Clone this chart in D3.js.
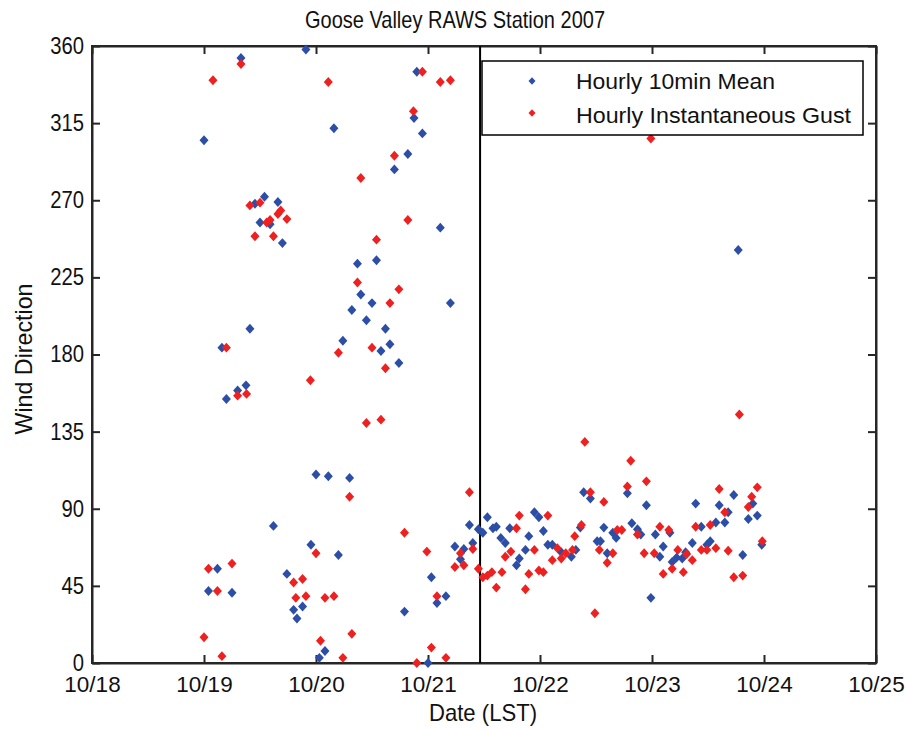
<!DOCTYPE html>
<html><head><meta charset="utf-8">
<script src="https://cdn.jsdelivr.net/npm/d3@7"></script>
<style>body{margin:0;background:#fff}svg{display:block}text{font-family:"Liberation Sans",Arial,sans-serif;fill:#111}</style>
</head><body><svg id="c" width="905" height="730"></svg>
<script>
const title = "Goose Valley RAWS Station 2007";
const xLabel = "Date (LST)";
const yLabel = "Wind Direction";
const seriesNames = ["Hourly 10min Mean", "Hourly Instantaneous Gust"];
const seriesColors = ["#2c4ea6", "#ee2020"];
const xTickDays = [18, 19, 20, 21, 22, 23, 24, 25];
const xTickLabels = ["10/18", "10/19", "10/20", "10/21", "10/22", "10/23", "10/24", "10/25"];
const yTicks = [0, 45, 90, 135, 180, 225, 270, 315, 360];
const markerDay = 21.465;
// [day of October (fractional), wind direction in degrees]
const meanPoints = [
[19.00,305],[19.16,184],[19.33,353],[19.375,162],[19.30,159],[19.20,154],[19.41,195],[19.455,268],
[19.54,272],[19.66,269],[19.50,257],[19.59,256],[19.70,245],[19.04,42],[19.12,55],[19.25,41],
[19.62,80],[19.74,52],[19.80,31],[19.88,33],[19.83,26],[19.91,358],[19.955,69],[20.00,110],
[20.11,109],[20.08,7],[20.03,3],[20.16,312],[20.20,63],[20.30,108],[20.24,188],[20.32,206],
[20.37,233],[20.40,215],[20.45,200],[20.50,210],[20.54,235],[20.58,182],[20.62,195],[20.66,186],
[20.74,175],[20.70,288],[20.82,297],[20.875,318],[20.90,345],[20.95,309],[20.79,30],[21.00,0],
[21.03,50],[21.08,35],[21.16,39],[21.11,254],[21.20,210],[21.24,68],[21.32,66.5],[21.40,70],
[21.29,60.5],[21.37,80.5],[21.45,78],[21.49,76],[21.53,85],[21.58,78.6],[21.61,79.5],[21.65,73],
[21.69,70],[21.73,78.6],[21.815,61],[21.79,57],[21.87,66],[21.90,74],[21.95,88],[21.99,85],
[22.03,77],[22.07,69],[22.11,69],[22.19,64.6],[22.28,62],[22.32,66],[22.36,79],[22.39,99.6],
[22.45,96],[22.51,71],[22.54,71],[22.57,79],[22.60,64],[22.78,99],[22.95,92],[22.82,81.5],
[22.87,78],[22.90,75],[22.65,76],[22.68,73],[23.03,75],[23.16,76],[23.10,68],[23.07,62],
[22.99,38],[23.30,64.6],[23.36,70],[23.52,71],[23.49,69],[23.81,63],[23.22,61.5],[23.27,61],
[23.18,59],[23.39,93],[23.60,92],[23.68,88],[23.65,82],[23.57,82],[23.44,79.5],[23.73,98],
[23.90,93],[23.94,86],[23.86,84],[23.98,69],[23.77,241]
];
const gustPoints = [
[19.33,349.5],[19.08,340],[20.11,339],[19.41,267],[19.50,268.6],[19.685,264],[19.66,262],[19.74,259],
[19.56,257],[19.59,258.5],[19.455,249],[19.62,249],[19.20,184],[19.30,156],[19.38,157],[19.95,165],
[20.00,64],[19.04,55],[19.25,58],[19.12,42],[19.80,47],[19.88,49],[19.82,38],[19.91,39],
[20.08,38],[20.16,39],[19.00,15],[19.16,4],[20.04,13],[20.24,3],[20.32,17],[20.20,181],
[20.50,184],[20.37,222],[20.40,283],[20.54,247],[20.70,296],[20.82,258.5],[20.74,218],[20.66,210],
[20.62,172],[20.45,140],[20.58,142],[20.30,97],[20.87,322],[20.95,345],[21.11,339],[21.20,340],
[20.79,76],[20.99,65],[21.08,39],[21.03,9],[21.16,3],[20.90,0],[21.37,99.6],[21.29,64],
[21.40,66.5],[21.24,56],[21.32,57],[21.45,55],[22.40,129],[22.45,99.6],[22.57,94],[22.07,86],
[21.815,86],[21.79,78.6],[22.37,80.5],[22.31,74],[22.155,67],[22.23,64],[22.29,66],[22.19,61],
[22.11,60],[22.53,66],[22.60,58.5],[21.74,65],[21.69,62],[21.95,66],[21.49,50],[21.53,51],
[21.57,53],[21.66,53],[21.61,44],[21.90,52],[21.99,54],[22.03,53],[21.87,43],[22.49,29],
[23.78,145],[22.81,118],[22.78,103],[22.95,106],[23.60,101.5],[23.94,102.5],[23.89,97],[23.86,91],
[23.65,88],[23.52,80.5],[23.39,79.5],[22.87,75],[22.69,77.6],[22.73,77.6],[23.07,79.5],[23.15,77.6],
[23.02,64],[23.23,66],[23.31,63.6],[23.44,66],[23.49,66],[23.57,67],[23.68,65.5],[22.65,64],
[22.93,64],[23.36,60],[23.18,55],[23.10,52],[23.28,53],[23.73,50],[23.81,51],[23.985,71],
[22.99,306]
];

const svg = d3.select("#c");
const L = 92, R = 876, T = 46, B = 663;
const x = d3.scaleLinear().domain([18, 25]).range([L, R]);
const y = d3.scaleLinear().domain([0, 360]).range([B, T]);
const axisColor = "#262626";
const tickLen = 8;
const FONT = "'Liberation Sans',Arial,sans-serif";

function squeeze(sel, k) {
  sel.each(function () {
    const w = this.getComputedTextLength();
    d3.select(this).attr("textLength", w * k).attr("lengthAdjust", "spacingAndGlyphs");
  });
}

svg.append("rect").attr("x", L).attr("y", T).attr("width", R - L).attr("height", B - T)
  .attr("fill", "#fff").attr("stroke", axisColor).attr("stroke-width", 2);

const fmt = d => xTickLabels[xTickDays.indexOf(d)];
const gxB = svg.append("g").attr("transform", `translate(0,${B})`)
  .call(d3.axisBottom(x).tickValues(xTickDays).tickFormat(fmt).tickSizeInner(-tickLen).tickSizeOuter(0));
const gxT = svg.append("g").attr("transform", `translate(0,${T})`)
  .call(d3.axisTop(x).tickValues(xTickDays).tickFormat("").tickSizeInner(-tickLen).tickSizeOuter(0));
const gyL = svg.append("g").attr("transform", `translate(${L},0)`)
  .call(d3.axisLeft(y).tickValues(yTicks).tickSizeInner(-tickLen).tickSizeOuter(0));
const gyR = svg.append("g").attr("transform", `translate(${R},0)`)
  .call(d3.axisRight(y).tickValues(yTicks).tickFormat("").tickSizeInner(-tickLen).tickSizeOuter(0));
[gxB, gxT, gyL, gyR].forEach(g => {
  g.select(".domain").attr("stroke", axisColor).attr("stroke-width", 2);
  g.selectAll(".tick line").attr("stroke", axisColor).attr("stroke-width", 2);
  g.selectAll(".tick text").attr("font-size", 23).attr("fill", "#111").attr("font-family", FONT);
});
gxB.selectAll(".tick text").attr("font-size", 22.5).attr("y", 29).attr("dy", 0);
gyL.selectAll(".tick text").attr("x", -8).attr("dy", "0.32em");
squeeze(gyL.selectAll(".tick text"), 0.88);

svg.append("line").attr("x1", x(markerDay)).attr("x2", x(markerDay)).attr("y1", T).attr("y2", B)
  .attr("stroke", "#000").attr("stroke-width", 2);

const diamond = (s) => `M0,${-s * 1.1} L${s},0 L0,${s * 1.1} L${-s},0 Z`;
const plotG = svg.append("g");
[meanPoints, gustPoints].forEach((pts, i) => {
  plotG.selectAll(null).data(pts).enter().append("path")
    .attr("d", diamond(4.5))
    .attr("transform", d => `translate(${x(d[0])},${y(d[1])})`)
    .attr("fill", seriesColors[i]);
});

const lg = svg.append("g");
lg.append("rect").attr("x", 482).attr("y", 61).attr("width", 381).attr("height", 74)
  .attr("fill", "#fff").attr("stroke", "#000").attr("stroke-width", 1.5);
const legendWidths = [199, 275];
seriesNames.forEach((n, i) => {
  const cy = 81 + i * 32;
  lg.append("path").attr("d", diamond(3.5)).attr("transform", `translate(532,${cy})`).attr("fill", seriesColors[i]);
  lg.append("text").attr("x", 576).attr("y", cy + 8 + i * 1.5).attr("font-size", 22)
    .attr("textLength", legendWidths[i]).attr("lengthAdjust", "spacingAndGlyphs").text(n);
});

svg.append("text").attr("x", 455).attr("y", 28).attr("text-anchor", "middle").attr("font-size", 24)
  .attr("textLength", 300).attr("lengthAdjust", "spacingAndGlyphs").text(title);
svg.append("text").attr("x", 483).attr("y", 721).attr("text-anchor", "middle").attr("font-size", 24)
  .attr("textLength", 108).attr("lengthAdjust", "spacingAndGlyphs").text(xLabel);
svg.append("text").attr("transform", "translate(32,359) rotate(-90)").attr("text-anchor", "middle").attr("font-size", 24)
  .attr("textLength", 151).attr("lengthAdjust", "spacingAndGlyphs").text(yLabel);
</script></body></html>
